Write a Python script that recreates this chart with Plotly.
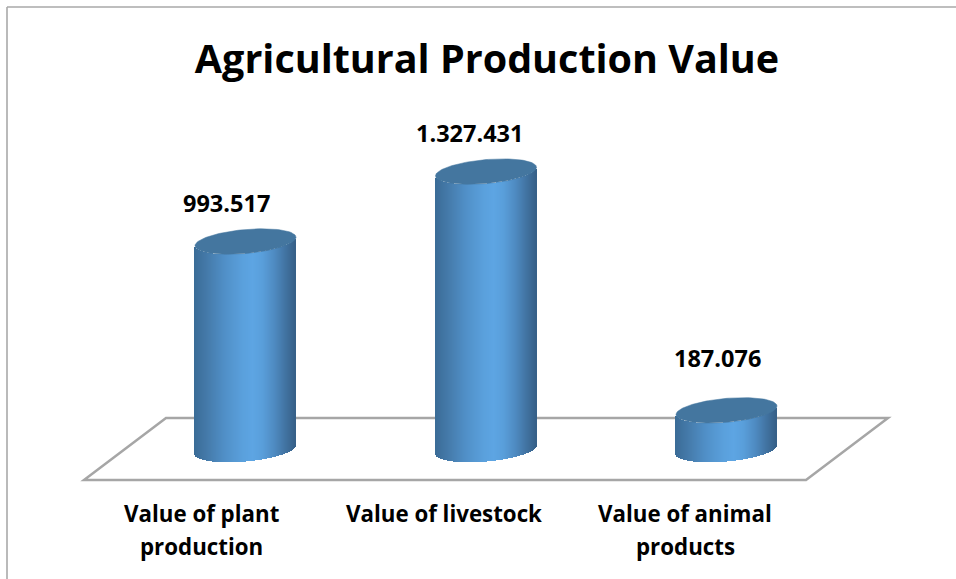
import numpy as np
import plotly.graph_objects as go

categories = ["Value of plant<br>production", "Value of livestock", "Value of animal<br>products"]
values = [993517, 1327431, 187076]

W, H = 956, 579
PLOT_BOTTOM = 495
BASE_PX = 449.5
PX_PER_VALUE = 208 / 993517
FIRST_PX, STEP_PX = 245.5, 240.5
A, B, TILT = 50.5, 12.0, -0.085
FONT = "'Open Sans', sans-serif"
TICK_PX = [201, 444, 685]
TICK_LINE_Y = [513, 546]

stops_pos = [0.0, 0.12, 0.3, 0.48, 0.58, 0.68, 0.8, 0.9, 1.0]
stops_col = [(58, 107, 150), (68, 121, 168), (80, 143, 199), (90, 160, 220), (93, 165, 227),
             (89, 158, 218), (78, 138, 192), (66, 116, 163), (54, 96, 136)]


def shade(t):
    rgb = [int(round(np.interp(t, stops_pos, [c[i] for c in stops_col]))) for i in range(3)]
    return f"rgb({rgb[0]},{rgb[1]},{rgb[2]})"


def px_x(dx):
    return dx / STEP_PX


def px_y(dy):
    return -dy / PX_PER_VALUE


fig = go.Figure()
dx = np.arange(-A + 0.5, A, 1.0)
for i, v in enumerate(values):
    down = TILT * dx + B * np.sqrt(np.clip(1 - (dx / A) ** 2, 0, 1))
    fig.add_trace(go.Bar(
        x=i + px_x(dx), y=np.full(dx.shape, v), base=px_y(down),
        width=px_x(1.15), marker=dict(color=[shade((d + A) / (2 * A)) for d in dx], line=dict(width=0)),
        hoverinfo="skip", showlegend=False))
    th = np.linspace(0, 2 * np.pi, 121)
    ex = A * np.cos(th)
    ey = TILT * ex + B * np.sin(th)
    fig.add_trace(go.Scatter(
        x=i + px_x(ex), y=v + px_y(ey), mode="lines", fill="toself",
        fillcolor="#44769F", line=dict(color="#44769F", width=0.5),
        hoverinfo="skip", showlegend=False))


def sx(p):
    return p / W


def sy(p):
    return 1 - p / PLOT_BOTTOM


floor = [(84, 480), (806, 480), (888, 418), (166, 418)]
floor_path = "M " + " L ".join(f"{sx(x):.5f},{sy(y):.5f}" for x, y in floor) + " Z"
shapes = [
    dict(type="path", path=floor_path, xref="paper", yref="paper", layer="below",
         line=dict(color="#A6A6A6", width=2.5)),
    dict(type="line", xref="paper", yref="paper", x0=sx(7), x1=1, y0=sy(7), y1=sy(7),
         line=dict(color="#A9A9A9", width=1.6)),
    dict(type="line", xref="paper", yref="paper", x0=sx(7), x1=sx(7), y0=sy(7), y1=sy(H),
         line=dict(color="#A9A9A9", width=1.6)),
]

label_xshift = [-19.5, -17, -9.5]
label_yshift = [38.5, 38.5, 52]
annotations = [
    dict(x=i, y=v, xref="x", yref="y", text="<b>" + f"{v:,}".replace(",", ".") + "</b>", showarrow=False,
         xshift=label_xshift[i], yshift=label_yshift[i], xanchor="center", yanchor="middle",
         font=dict(family=FONT, size=23.5, color="black"))
    for i, v in enumerate(values)
]
for c, tx in zip(categories, TICK_PX):
    for line, ty in zip(c.split("<br>"), TICK_LINE_Y):
        annotations.append(dict(x=sx(tx), y=sy(ty), xref="paper", yref="paper", text=f"<b>{line}</b>",
                                showarrow=False, xanchor="center", yanchor="middle",
                                font=dict(family=FONT, size=22.3, color="black")))

fig.update_layout(
    width=W, height=H, margin=dict(l=0, r=0, t=0, b=H - PLOT_BOTTOM),
    paper_bgcolor="white", plot_bgcolor="rgba(0,0,0,0)", barmode="overlay", bargap=0,
    title=dict(text="<b>Agricultural Production Value</b>", x=487 / W, xanchor="center",
               y=1 - 59 / H, yanchor="middle", xref="paper",
               font=dict(family=FONT, size=39.5, color="black")),
    xaxis=dict(range=[-FIRST_PX / STEP_PX, (W - FIRST_PX) / STEP_PX], showgrid=False, zeroline=False,
               showline=False, showticklabels=False, ticks=""),
    yaxis=dict(range=[-(PLOT_BOTTOM - BASE_PX) / PX_PER_VALUE, BASE_PX / PX_PER_VALUE], visible=False),
    shapes=shapes, annotations=annotations, showlegend=False,
)

fig.write_html("out.html", config=dict(displayModeBar=False),
               post_script="document.body.style.margin='0';document.body.style.overflow='hidden';")
